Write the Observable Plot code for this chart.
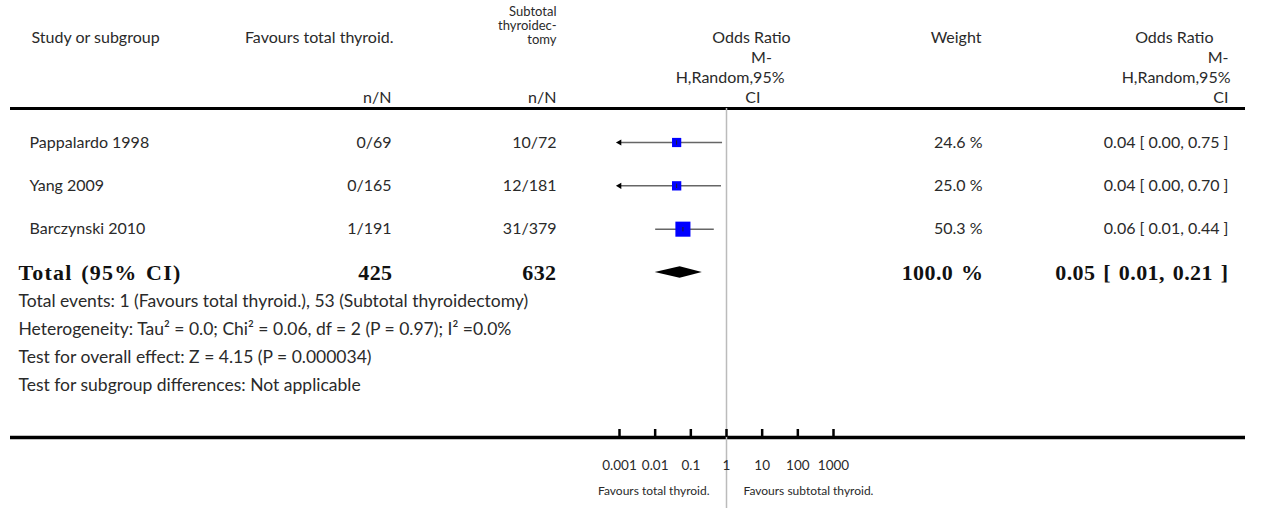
<!DOCTYPE html>
<html><head><meta charset="utf-8">
<script src="https://cdn.jsdelivr.net/npm/d3@7"></script>
<script src="https://cdn.jsdelivr.net/npm/@observablehq/plot@0.6"></script>
<style>
body{margin:0;background:#fff} svg{display:block}
.boldrow text{letter-spacing:0.4px;word-spacing:2px}
.boldlabel text{letter-spacing:1.2px;word-spacing:2px}
</style>
</head><body><div id="chart"></div>
<script>
// ---- data ----
const studies = ["Pappalardo 1998", "Yang 2009", "Barczynski 2010"];
const totalThyroid = ["0/69", "0/165", "1/191"];
const subtotalThyroid = ["10/72", "12/181", "31/379"];
const oddsRatio = [0.04, 0.04, 0.06];
const ciLower = [0.001, 0.001, 0.01];
const ciUpper = [0.75, 0.70, 0.44];
const weights = [24.6, 25.0, 50.3];
const weightLabels = ["24.6 %", "25.0 %", "50.3 %"];
const ciLabels = ["0.04 [ 0.00, 0.75 ]", "0.04 [ 0.00, 0.70 ]", "0.06 [ 0.01, 0.44 ]"];
const totalLabel = "Total (95% CI)";
const totalN = ["425", "632"];
const pooled = {or: 0.05, lo: 0.01, hi: 0.21};
const totalWeight = "100.0 %";
const totalCI = "0.05 [ 0.01, 0.21 ]";
const footerLines = [
  "Total events: 1 (Favours total thyroid.), 53 (Subtotal thyroidectomy)",
  "Heterogeneity: Tau\u00b2 = 0.0; Chi\u00b2 = 0.06, df = 2 (P = 0.97); I\u00b2 =0.0%",
  "Test for overall effect: Z = 4.15 (P = 0.000034)",
  "Test for subgroup differences: Not applicable"
];
const tickValues = [0.001, 0.01, 0.1, 1, 10, 100, 1000];
const tickLabels = ["0.001", "0.01", "0.1", "1", "10", "100", "1000"];
const leftLabel = "Favours total thyroid.";
const rightLabel = "Favours subtotal thyroid.";
const headers = {
  study: "Study or subgroup",
  group1: "Favours total thyroid.",
  group2: "Subtotal\nthyroidec-\ntomy",
  nN: "n/N",
  orLines: ["Odds Ratio", "M-", "H,Random,95%", "CI"],
  weight: "Weight"
};

// ---- table ----
const rows = studies.map((s, i) => ({
  i, study: s, n1: totalThyroid[i], n2: subtotalThyroid[i],
  or: oddsRatio[i], lo: ciLower[i], hi: ciUpper[i], w: weights[i],
  wl: weightLabels[i], cil: ciLabels[i]
}));
const totalIndex = studies.length;
const h = 0.13;
const diamond = [
  {x: pooled.lo, y1: totalIndex, y2: totalIndex},
  {x: pooled.or, y1: totalIndex - h, y2: totalIndex + h},
  {x: pooled.hi, y1: totalIndex, y2: totalIndex}
];

const txt = (str, o) => Plot.text([str], {text: d => d, frameAnchor: "top-left", lineAnchor: "middle", fontSize: 16, ...o});
const bold = {fontFamily: "Liberation Serif", fontWeight: "bold", fontSize: 22, fill: "#111", className: "boldrow"};
const totalText = (str, o) => Plot.text([str], {y: () => totalIndex, text: d => d, frameAnchor: "left", ...bold, ...o});

const marks = [
  // headers
  txt(headers.study, {dx: 31, dy: 37}),
  txt(headers.group1, {dx: 393, dy: 37, textAnchor: "end"}),
  txt(headers.group2, {dx: 556, dy: 25, textAnchor: "end", fontSize: 13, lineHeight: 1.08}),
  txt(headers.nN, {dx: 391, dy: 97, textAnchor: "end"}),
  txt(headers.nN, {dx: 556, dy: 97, textAnchor: "end"}),
  txt(headers.orLines[0], {dx: 751, dy: 37, textAnchor: "middle"}),
  txt(headers.orLines[1], {dx: 761, dy: 57, textAnchor: "middle"}),
  txt(headers.orLines[2], {dx: 784, dy: 77, textAnchor: "end"}),
  txt(headers.orLines[3], {dx: 760, dy: 97, textAnchor: "end"}),
  txt(headers.weight, {dx: 981, dy: 37, textAnchor: "end"}),
  txt(headers.orLines[0], {dx: 1213, dy: 37, textAnchor: "end"}),
  txt(headers.orLines[1], {dx: 1228, dy: 57, textAnchor: "end"}),
  txt(headers.orLines[2], {dx: 1230, dy: 77, textAnchor: "end"}),
  txt(headers.orLines[3], {dx: 1228, dy: 97, textAnchor: "end"}),
  // rules
  Plot.ruleY([0], {dy: -34, stroke: "black", strokeWidth: 3, insetLeft: 10, insetRight: 26}),
  Plot.ruleY([0], {dy: 295, stroke: "black", strokeWidth: 3.5, insetLeft: 10, insetRight: 26}),
  Plot.ruleX([1], {stroke: "#bbb", strokeWidth: 1.5, insetTop: 108}),
  // study rows text
  Plot.text(rows, {y: "i", text: "study", frameAnchor: "left", dx: 29, textAnchor: "start", fontSize: 16}),
  Plot.text(rows, {y: "i", text: "n1", frameAnchor: "left", dx: 391, textAnchor: "end", fontSize: 16}),
  Plot.text(rows, {y: "i", text: "n2", frameAnchor: "left", dx: 556, textAnchor: "end", fontSize: 16}),
  Plot.text(rows, {y: "i", text: "wl", frameAnchor: "left", dx: 982, textAnchor: "end", fontSize: 16}),
  Plot.text(rows, {y: "i", text: "cil", frameAnchor: "left", dx: 1228, textAnchor: "end", fontSize: 16}),
  // total row text
  totalText(totalLabel, {dx: 18, textAnchor: "start", className: "boldlabel"}),
  totalText(totalN[0], {dx: 392, textAnchor: "end"}),
  totalText(totalN[1], {dx: 556, textAnchor: "end"}),
  totalText(totalWeight, {dx: 983, textAnchor: "end"}),
  totalText(totalCI, {dx: 1228, textAnchor: "end"}),
  // forest
  Plot.link(rows, {x1: "lo", x2: "hi", y1: "i", y2: "i", stroke: "#666", strokeWidth: 1.5}),
  Plot.dot(rows, {x: "or", y: "i", r: "w", symbol: "square", fill: "#0000ff", stroke: "none"}),
  Plot.link(rows, {x1: "or", x2: "or", y1: d => d.i - 0.05, y2: d => d.i + 0.05, stroke: "#222", strokeWidth: 1}),
  Plot.dot(rows.filter(d => d.lo <= tickValues[0]), {x: "lo", y: "i", symbol: "triangle", rotate: -90, r: 2.3, fill: "black", stroke: "none"}),
  Plot.areaY(diamond, {x: "x", y1: "y1", y2: "y2", fill: "black"}),
  // axis
  Plot.ruleX(tickValues, {stroke: "black", strokeWidth: 2.5, insetTop: 429, insetBottom: 71}),
  Plot.text(tickValues, {x: d => d, text: (d, i) => tickLabels[i], frameAnchor: "top", dy: 465, lineAnchor: "middle", fontSize: 13.5}),
  Plot.text([1], {x: d => d, text: () => leftLabel, frameAnchor: "top", dy: 491, dx: -17, textAnchor: "end", lineAnchor: "middle", fontSize: 12}),
  Plot.text([1], {x: d => d, text: () => rightLabel, frameAnchor: "top", dy: 491, dx: 17, textAnchor: "start", lineAnchor: "middle", fontSize: 12}),
  // footer
  ...footerLines.map((t, k) => txt(t, {dx: 18, dy: 301 + 28 * k, fontSize: 17.5}))
];

const chart = Plot.plot({
  width: 1271,
  height: 508,
  margin: 0,
  style: {fontFamily: "Lato, sans-serif", fontSize: "16px", color: "#2a2a2a", background: "white"},
  x: {type: "log", domain: [0.001, 1000], range: [619, 833], axis: null},
  y: {type: "linear", domain: [0, 3], range: [142, 272], axis: null},
  r: {type: "linear", domain: [24.6, 50.3], range: [5.2, 8.5]},
  marks
});
document.getElementById("chart").appendChild(chart);
</script>
</body></html>
